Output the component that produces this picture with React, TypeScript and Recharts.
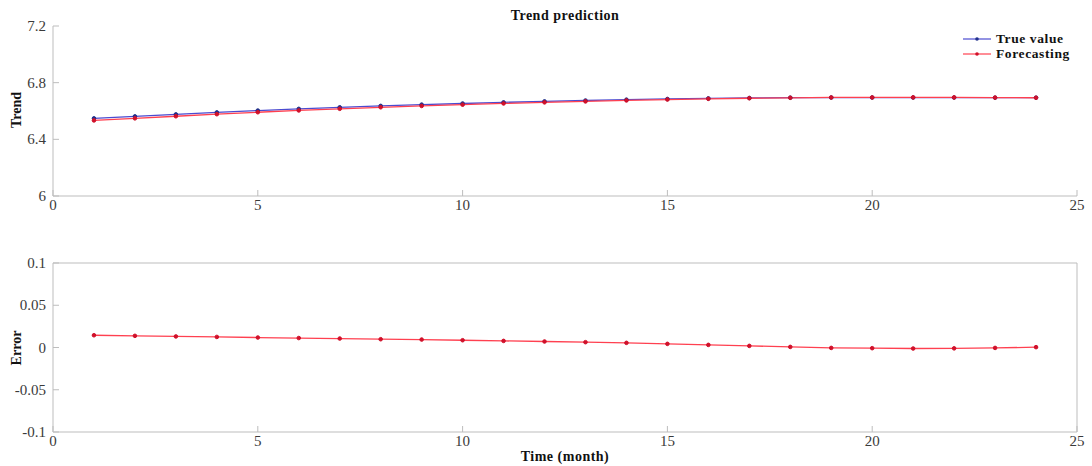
import { Line, LineChart, XAxis, YAxis } from 'recharts';

const MONTHS = [1, 2, 3, 4, 5, 6, 7, 8, 9, 10, 11, 12, 13, 14, 15, 16, 17, 18, 19, 20, 21, 22, 23, 24];

const TRUE_VALUE = [
  6.548, 6.562, 6.576, 6.59, 6.603, 6.615, 6.626, 6.636, 6.645, 6.653, 6.661, 6.668,
  6.674, 6.68, 6.685, 6.689, 6.692, 6.694, 6.695, 6.695, 6.695, 6.695, 6.694, 6.694,
];

const FORECASTING = [
  6.5335, 6.5482, 6.5629, 6.5775, 6.5912, 6.6038, 6.6154, 6.6262, 6.6356, 6.6444, 6.6532, 6.6609,
  6.6677, 6.6745, 6.6807, 6.6859, 6.6901, 6.6933, 6.6955, 6.6958, 6.6962, 6.696, 6.6945, 6.6936,
];

const ERROR = [
  0.0145, 0.0138, 0.0131, 0.0125, 0.0118, 0.0112, 0.0106, 0.0098, 0.0094, 0.0086, 0.0078, 0.0071,
  0.0063, 0.0055, 0.0043, 0.0031, 0.0019, 0.0007, -0.0005, -0.0008, -0.0012, -0.001, -0.0005, 0.0004,
];

const X_TICKS = [0, 5, 10, 15, 20, 25];
const TREND_TICKS = [6, 6.4, 6.8, 7.2];
const ERROR_TICKS = [-0.1, -0.05, 0, 0.05, 0.1];

const FONT = '"Liberation Serif", "Times New Roman", serif';
const AXIS = '#bdbdbd';
const TICK_TEXT = '#3a3a3a';
const BLUE = '#4b4bd0';
const BLUE_DOT = '#20308a';
const RED = '#ff4050';
const RED_DOT = '#d0102a';

const trendRows = MONTHS.map((m, i) => ({ month: m, trueValue: TRUE_VALUE[i], forecasting: FORECASTING[i] }));
const errorRows = MONTHS.map((m, i) => ({ month: m, error: ERROR[i] }));

// Serif tick text; the axis passes the label anchor point in x/y.
function XTick(props: any) {
  const { x, y, payload } = props;
  return (
    <text x={x} y={y} dy={11} textAnchor="middle" fontFamily={FONT} fontSize={15} fill={TICK_TEXT}>
      {payload.value}
    </text>
  );
}

function YTick(props: any) {
  const { x, y, payload } = props;
  return (
    <text x={x} y={y} dy={5} textAnchor="end" fontFamily={FONT} fontSize={15} fill={TICK_TEXT}>
      {payload.value}
    </text>
  );
}

function LegendBox() {
  const items = [
    { label: 'True value', line: BLUE, dot: BLUE_DOT },
    { label: 'Forecasting', line: RED, dot: RED_DOT },
  ];
  return (
    <div style={{ fontFamily: FONT, fontWeight: 700, fontSize: 13.5, color: '#111', lineHeight: '15px' }}>
      {items.map((it) => (
        <div key={it.label} style={{ display: 'flex', alignItems: 'center', gap: 4 }}>
          <svg width={30} height={10}>
            <line x1={1} y1={5} x2={29} y2={5} stroke={it.line} strokeWidth={1.2} />
            <circle cx={15} cy={5} r={1.8} fill={it.dot} />
          </svg>
          <span style={{ letterSpacing: 0.6 }}>{it.label}</span>
        </div>
      ))}
    </div>
  );
}

export default function App() {
  return (
    <div style={{ position: 'absolute', left: 0, top: 0, width: 1092, height: 466, background: '#fff', fontFamily: FONT }}>
      <div style={styles.title}>Trend prediction</div>
      <div style={{ ...styles.yLabel, top: 110 }}>Trend</div>
      <div style={{ ...styles.yLabel, top: 348 }}>Error</div>
      <div style={styles.xLabel}>Time (month)</div>

      <div style={{ position: 'absolute', left: 0, top: 0 }}>
        <LineChart width={1092} height={230} data={trendRows} margin={{ top: 26, right: 15, bottom: 14, left: 0 }}>
          <XAxis
            dataKey="month"
            type="number"
            domain={[0, 25]}
            ticks={X_TICKS}
            height={20}
            tickSize={-6}
            tickMargin={9}
            tick={<XTick />}
            stroke={AXIS}
            tickLine={{ stroke: AXIS }}
          />
          <YAxis
            type="number"
            domain={[6, 7.2]}
            ticks={TREND_TICKS}
            width={53}
            tickSize={-6}
            tickMargin={13}
            tick={<YTick />}
            stroke={AXIS}
            tickLine={{ stroke: AXIS }}
          />
          <Line
            dataKey="trueValue"
            stroke={BLUE}
            strokeWidth={1.3}
            dot={{ r: 1.8, fill: BLUE_DOT, stroke: BLUE_DOT, strokeWidth: 1 }}
            isAnimationActive={false}
          />
          <Line
            dataKey="forecasting"
            stroke={RED}
            strokeWidth={1.3}
            dot={{ r: 1.8, fill: RED_DOT, stroke: RED_DOT, strokeWidth: 1 }}
            isAnimationActive={false}
          />
        </LineChart>
      </div>
      <div style={{ position: 'absolute', left: 962, top: 31 }}>
        <LegendBox />
      </div>

      <div style={{ position: 'absolute', left: 0, top: 240 }}>
        <LineChart width={1092} height={230} data={errorRows} margin={{ top: 22, right: 14, bottom: 18, left: 0 }}>
          <XAxis
            dataKey="month"
            type="number"
            domain={[0, 25]}
            ticks={X_TICKS}
            height={20}
            tickSize={-6}
            tickMargin={9}
            tick={<XTick />}
            stroke={AXIS}
            tickLine={{ stroke: AXIS }}
          />
          <XAxis
            xAxisId="top"
            orientation="top"
            dataKey="month"
            type="number"
            domain={[0, 25]}
            ticks={X_TICKS}
            height={1}
            tickSize={-6}
            tick={false}
            stroke={AXIS}
            tickLine={{ stroke: AXIS }}
          />
          <YAxis
            type="number"
            domain={[-0.1, 0.1]}
            ticks={ERROR_TICKS}
            width={53}
            tickSize={-6}
            tickMargin={13}
            tick={<YTick />}
            stroke={AXIS}
            tickLine={{ stroke: AXIS }}
          />
          <YAxis
            yAxisId="right"
            orientation="right"
            type="number"
            domain={[-0.1, 0.1]}
            ticks={ERROR_TICKS}
            width={1}
            tickSize={-6}
            tick={false}
            stroke={AXIS}
            tickLine={{ stroke: AXIS }}
          />
          <Line
            dataKey="error"
            stroke={RED}
            strokeWidth={1.3}
            dot={{ r: 1.8, fill: RED_DOT, stroke: RED_DOT, strokeWidth: 1 }}
            isAnimationActive={false}
          />
        </LineChart>
      </div>
    </div>
  );
}

const styles: Record<string, React.CSSProperties> = {
  title: {
    position: 'absolute',
    left: 465,
    width: 200,
    top: 8,
    textAlign: 'center',
    fontWeight: 700,
    fontSize: 14,
    letterSpacing: 0.5,
    color: '#111',
  },
  yLabel: {
    position: 'absolute',
    left: -12,
    width: 60,
    height: 18,
    marginTop: -9,
    textAlign: 'center',
    transform: 'rotate(-90deg)',
    fontWeight: 700,
    fontSize: 14,
    color: '#111',
  },
  xLabel: {
    position: 'absolute',
    left: 465,
    width: 200,
    top: 449,
    textAlign: 'center',
    fontWeight: 700,
    fontSize: 14,
    letterSpacing: 0.5,
    color: '#111',
  },
};
